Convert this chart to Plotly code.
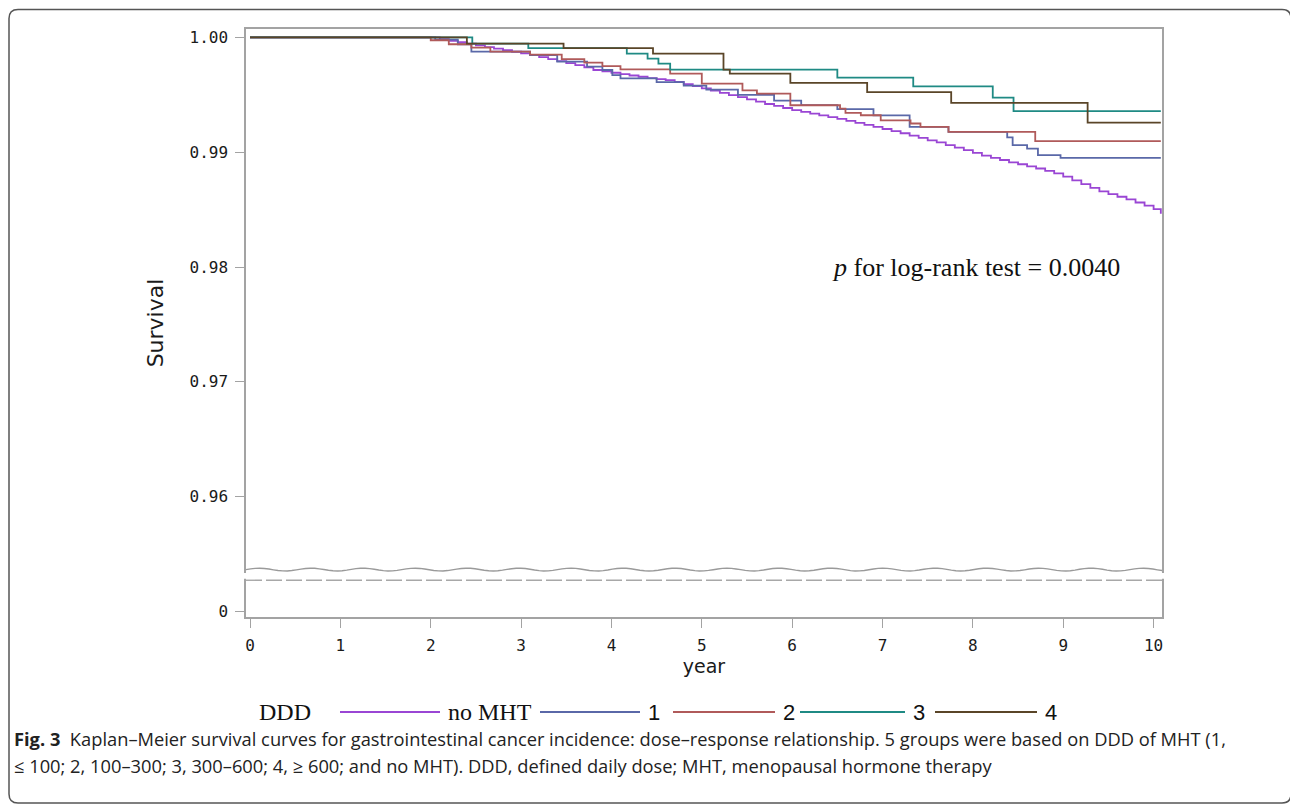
import math
import plotly.graph_objects as go

# ---------------- data ----------------
GROUPS = ["no MHT", "1", "2", "3", "4"]
COLORS = ["#9a46d4", "#5a68a8", "#b05a5a", "#1f8a84", "#5a4528"]

T_NOMHT = [0, 2.0, 2.1, 2.2, 2.3, 2.4, 2.5, 2.6, 2.7, 2.8, 2.9, 3.0, 3.1, 3.2, 3.3, 3.4,
           3.5, 3.6, 3.7, 3.8, 3.9, 4.0, 4.1, 4.2, 4.3, 4.4, 4.5, 4.6, 4.7, 4.8, 4.9,
           5.0, 5.1, 5.2, 5.3, 5.4, 5.5, 5.6, 5.7, 5.8, 5.9, 6.0, 6.1, 6.2, 6.3, 6.4,
           6.5, 6.6, 6.7, 6.8, 6.9, 7.0, 7.1, 7.2, 7.3, 7.4, 7.5, 7.6, 7.7, 7.8, 7.9,
           8.0, 8.1, 8.2, 8.3, 8.4, 8.5, 8.6, 8.7, 8.8, 8.9, 9.0, 9.1, 9.2, 9.3, 9.4,
           9.5, 9.6, 9.7, 9.8, 9.9, 10.0, 10.08]
S_NOMHT = [1.0, 1.0, 0.99985, 0.99970, 0.99958, 0.99945, 0.99930, 0.99916, 0.99902, 0.99888,
           0.99875, 0.99860, 0.99846, 0.99828, 0.99810, 0.99793, 0.99775, 0.99758, 0.99740,
           0.99716, 0.99705, 0.99692, 0.99680, 0.99668, 0.99657, 0.99645, 0.99636, 0.99628,
           0.99612, 0.99593, 0.99575, 0.99556, 0.99537, 0.99516, 0.99497, 0.99480, 0.99460,
           0.99440, 0.99420, 0.99403, 0.99385, 0.99366, 0.99352, 0.99336, 0.99320, 0.99305,
           0.99290, 0.99272, 0.99255, 0.99238, 0.99220, 0.99202, 0.99183, 0.99165, 0.99145,
           0.99124, 0.99103, 0.99085, 0.99062, 0.99040, 0.99018, 0.98995, 0.98970, 0.98950,
           0.98932, 0.98912, 0.98895, 0.98876, 0.98858, 0.98838, 0.98816, 0.98788, 0.98755,
           0.98722, 0.98690, 0.98658, 0.98635, 0.98612, 0.98590, 0.98562, 0.98535, 0.98505,
           0.98465]

T_G1 = [0, 2.05, 2.30, 2.45, 3.10, 3.40, 3.73, 3.90, 4.01, 4.10, 4.50, 4.80, 5.05, 5.40,
        5.80, 6.10, 6.50, 6.90, 7.30, 7.73, 8.38, 8.44, 8.60, 8.72, 8.97, 10.08]
S_G1 = [1.0, 0.9998, 0.9994, 0.99876, 0.99846, 0.99789, 0.99745, 0.99716, 0.99672, 0.99643,
        0.9961, 0.9958, 0.99545, 0.9950, 0.9945, 0.9941, 0.99375, 0.9932, 0.9922, 0.99177,
        0.9913, 0.99061, 0.99032, 0.98974, 0.9895, 0.9895]

T_G2 = [0, 2.00, 2.20, 2.45, 2.66, 3.10, 3.45, 3.70, 3.90, 4.10, 4.65, 5.00, 5.45, 5.61,
        5.98, 6.53, 6.59, 6.76, 6.98, 7.31, 7.42, 7.73, 8.69, 10.08]
S_G2 = [1.0, 0.99975, 0.9994, 0.9991, 0.99876, 0.9985, 0.9981, 0.9978, 0.9975, 0.99722,
        0.99684, 0.99597, 0.99539, 0.9951, 0.99409, 0.9938, 0.99342, 0.99322, 0.99278,
        0.9925, 0.9922, 0.99177, 0.99096, 0.99096]

T_G3 = [0, 2.46, 3.08, 4.17, 4.40, 4.52, 4.65, 6.50, 7.34, 8.22, 8.45, 10.08]
S_G3 = [1.0, 0.99945, 0.99907, 0.99858, 0.99815, 0.99771, 0.99719, 0.9965, 0.99574,
        0.99476, 0.99357, 0.99357]

T_G4 = [0, 2.40, 3.47, 4.46, 5.24, 5.31, 5.98, 6.83, 7.76, 9.27, 10.08]
S_G4 = [1.0, 0.99945, 0.99907, 0.99858, 0.99719, 0.99684, 0.99603, 0.99524, 0.99429,
        0.99258, 0.99258]

X_TICKS = [0, 1, 2, 3, 4, 5, 6, 7, 8, 9, 10]
Y_TICK_TEXT = ["0", "0.96", "0.97", "0.98", "0.99", "1.00"]
Y_TICK_REAL = [0.96, 0.97, 0.98, 0.99, 1.00]

P_TEXT = "<i>p</i> for log-rank test = 0.0040"
CAPTION_1 = ("<b>Fig. 3</b>\u00a0\u00a0Kaplan–Meier survival curves for gastrointestinal cancer "
             "incidence: dose–response relationship. 5 groups were based on DDD of MHT (1,")
CAPTION_2 = ("≤\u00a0100; 2, 100–300; 3, 300–600; 4, ≥\u00a0600; and no MHT). DDD, defined daily "
             "dose; MHT, menopausal hormone therapy")

SERIES = [(T_NOMHT, S_NOMHT), (T_G1, S_G1), (T_G2, S_G2), (T_G3, S_G3), (T_G4, S_G4)]

# ---------------- layout geometry (page has an 8px body margin) ----------------
OFF = 8
W, H = 1298 - OFF, 810 - OFF
PLOT_L, PLOT_R, PLOT_T, PLOT_B = 246, 1162, 29, 617      # in page pixels
ML, MT = PLOT_L - OFF, PLOT_T - OFF
MR, MB = W - (PLOT_R - OFF), H - (PLOT_B - OFF)
PW, PH = PLOT_R - PLOT_L, PLOT_B - PLOT_T
ZERO_POS = 0.95          # where the broken axis shows its "0"
Y_RANGE = [0.94952, 1.00073]
X_RANGE = [-0.0443, 10.093]


def px(x):
    return (x - PLOT_L) / PW


def py(y):
    return (PLOT_B - y) / PH


fig = go.Figure()
for (t, s), name, col in zip(SERIES, GROUPS, COLORS):
    fig.add_trace(go.Scatter(x=t, y=s, mode="lines", name=name, line_shape="hv",
                             line=dict(color=col, width=1.8), showlegend=False))

TICK_FONT = dict(family="DejaVu Sans Mono, Liberation Mono", size=16, color="#1a1a1a")
axis_common = dict(showline=True, linecolor="#a3a3a3", linewidth=1.5, mirror=True,
                   ticks="outside", ticklen=9, tickcolor="#a3a3a3", tickwidth=1.2,
                   showgrid=False, zeroline=False, tickfont=TICK_FONT, ticklabelstandoff=4)

fig.update_xaxes(range=X_RANGE, tickvals=X_TICKS,
                 title=dict(text="year", standoff=0,
                            font=dict(family="DejaVu Sans", size=19, color="#1a1a1a")),
                 **axis_common)
fig.update_yaxes(range=Y_RANGE, tickvals=[ZERO_POS] + Y_TICK_REAL, ticktext=Y_TICK_TEXT,
                 title=dict(text="Survival", standoff=20,
                            font=dict(family="DejaVu Sans", size=22, color="#1a1a1a")),
                 **axis_common)

shapes = []
# axis break: white gap then two wavy lines
shapes.append(dict(type="rect", xref="paper", yref="y", x0=-0.01, x1=1.01,
                   y0=0.95285, y1=0.95335, fillcolor="white", line=dict(width=0),
                   layer="above"))
n = 200
amp = 1.4 / 11470
pts = []
for i in range(n + 1):
    fx = i / n
    yv = 0.95365 + amp * math.sin(2 * math.pi * fx * PW / 52.0)
    pts.append(f"{fx:.4f},{yv:.6f}")
shapes.append(dict(type="path", xref="paper", yref="y", path="M " + " L ".join(pts),
                   line=dict(color="#9a9a9a", width=1.4), layer="above"))
shapes.append(dict(type="line", xref="paper", yref="y", x0=0.0, x1=1.0,
                   y0=0.95272, y1=0.95272,
                   line=dict(color="#a8a8a8", width=1.4, dash="16px,4px"), layer="above"))

# outer rounded frame of the figure panel (page pixels)
x0, y0, x1, y1, r = 9, 9.5, 1291, 803, 9
frame = (f"M {px(x0 + r)},{py(y0)} L {px(x1 - r)},{py(y0)} "
         f"Q {px(x1)},{py(y0)} {px(x1)},{py(y0 + r)} L {px(x1)},{py(y1 - r)} "
         f"Q {px(x1)},{py(y1)} {px(x1 - r)},{py(y1)} L {px(x0 + r)},{py(y1)} "
         f"Q {px(x0)},{py(y1)} {px(x0)},{py(y1 - r)} L {px(x0)},{py(y0 + r)} "
         f"Q {px(x0)},{py(y0)} {px(x0 + r)},{py(y0)} Z")
shapes.append(dict(type="path", xref="paper", yref="paper", path=frame,
                   line=dict(color="#555", width=1.5), layer="above"))

# manual legend (long line samples like the original)
LEG_Y = 712
LEG_LINE_X = [(340, 440), (540, 640), (673, 775), (800, 905), (935, 1037)]
LEG_FONTS = ["Liberation Serif", "Liberation Sans", "Liberation Sans", "Liberation Sans",
             "Liberation Sans"]
annotations = [dict(x=px(257), y=py(LEG_Y), xref="paper", yref="paper", text="DDD",
                    showarrow=False, xanchor="left", yanchor="middle",
                    font=dict(family="Liberation Serif", size=24, color="#111"))]
for (a, b), name, col, fam in zip(LEG_LINE_X, GROUPS, COLORS, LEG_FONTS):
    shapes.append(dict(type="line", xref="paper", yref="paper", x0=px(a), x1=px(b),
                       y0=py(LEG_Y), y1=py(LEG_Y), line=dict(color=col, width=1.8)))
    annotations.append(dict(x=px(b + 6), y=py(LEG_Y), xref="paper", yref="paper", text=name,
                            showarrow=False, xanchor="left", yanchor="middle",
                            font=dict(family=fam, size=22 if fam.endswith("Sans") else 24,
                                      color="#111")))

annotations.append(dict(x=6.42, y=0.98, xref="x", yref="y", text=P_TEXT, showarrow=False,
                        xanchor="left", yanchor="middle",
                        font=dict(family="Liberation Serif", size=26, color="#111")))
annotations.append(dict(x=px(12), y=py(739), xref="paper", yref="paper", text=CAPTION_1,
                        showarrow=False, xanchor="left", yanchor="middle",
                        font=dict(family="Open Sans", size=18.3, color="#222")))
annotations.append(dict(x=px(12), y=py(765), xref="paper", yref="paper", text=CAPTION_2,
                        showarrow=False, xanchor="left", yanchor="middle",
                        font=dict(family="Open Sans", size=18.3, color="#222")))

fig.update_layout(width=W, height=H, margin=dict(l=ML, r=MR, t=MT, b=MB, autoexpand=False),
                  paper_bgcolor="white", plot_bgcolor="white", showlegend=False,
                  shapes=shapes, annotations=annotations)

fig.write_html("out.html")
